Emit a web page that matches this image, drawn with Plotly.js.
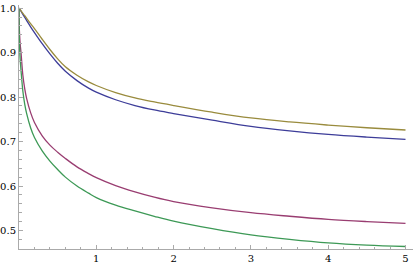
<!DOCTYPE html>
<html>
<head>
<meta charset="utf-8">
<script src="https://cdn.plot.ly/plotly-3.0.1.min.js"></script>
<style>html,body{margin:0;padding:0;background:#fff;}#chart{width:415px;height:267px;}</style>
</head>
<body>
<div id="chart"></div>
<script>
const xs     = [0, 0.003, 0.008, 0.015, 0.026, 0.05, 0.075, 0.1, 0.15, 0.2, 0.3, 0.4, 0.5, 0.6, 0.75, 0.9, 1.0, 1.25, 1.5, 1.75, 2, 2.5, 3, 3.5, 4, 4.5, 5];
const blue   = [1, 0.999, 0.998, 0.996, 0.993, 0.986, 0.979, 0.972, 0.958, 0.945, 0.920, 0.897, 0.876, 0.858, 0.837, 0.820, 0.811, 0.794, 0.781, 0.771, 0.763, 0.748, 0.734, 0.724, 0.716, 0.710, 0.705];
const gold   = [1, 0.999, 0.998, 0.997, 0.994, 0.988, 0.983, 0.977, 0.965, 0.954, 0.930, 0.907, 0.886, 0.868, 0.849, 0.834, 0.826, 0.810, 0.798, 0.789, 0.781, 0.766, 0.753, 0.744, 0.737, 0.731, 0.726];
const purple = [1, 0.960, 0.940, 0.920, 0.900, 0.849, 0.818, 0.796, 0.765, 0.743, 0.713, 0.692, 0.676, 0.662, 0.643, 0.628, 0.619, 0.601, 0.587, 0.575, 0.565, 0.551, 0.540, 0.532, 0.525, 0.520, 0.516];
const green  = [1, 0.940, 0.910, 0.885, 0.860, 0.813, 0.783, 0.762, 0.731, 0.709, 0.679, 0.656, 0.637, 0.620, 0.600, 0.584, 0.574, 0.557, 0.544, 0.532, 0.521, 0.504, 0.490, 0.480, 0.472, 0.467, 0.464];
const xTicks = [1, 2, 3, 4, 5];
const yTicks = [0.5, 0.6, 0.7, 0.8, 0.9, 1.0];

const series = [
  {y: blue, color: '#3D3D99'},
  {y: purple, color: '#993D71'},
  {y: gold, color: '#998B3D'},
  {y: green, color: '#3D9956'}
];
const data = series.map(s => ({
  x: xs, y: s.y, type: 'scatter', mode: 'lines',
  line: {color: s.color, width: 1.3, shape: 'spline', smoothing: 1},
  hoverinfo: 'skip'
}));

const axisCommon = {
  showgrid: false, zeroline: false, showline: true,
  linecolor: '#aaaaaa', linewidth: 1,
  ticks: 'inside', tickcolor: '#aaaaaa', ticklen: 4, tickwidth: 1,
  tickfont: {family: 'DejaVu Serif', size: 10, color: '#000'}
};
const layout = {
  width: 415, height: 267,
  font: {family: 'DejaVu Serif'},
  margin: {l: 19, r: 2, t: 5, b: 18},
  paper_bgcolor: '#fff', plot_bgcolor: '#fff',
  showlegend: false,
  xaxis: Object.assign({}, axisCommon, {
    range: [0, 5.097], tickmode: 'array', tickvals: xTicks, ticktext: xTicks.map(String),
    minor: {ticks: 'inside', tick0: 0, dtick: 0.2, ticklen: 2.5, tickcolor: '#aaaaaa', showgrid: false}
  }),
  yaxis: Object.assign({}, axisCommon, {
    range: [0.4584, 1.007], tickmode: 'array', tickvals: yTicks, ticktext: yTicks.map(v => v.toFixed(1)),
    ticklabelstandoff: 0,
    minor: {ticks: 'inside', tick0: 0, dtick: 0.02, ticklen: 2.5, tickcolor: '#aaaaaa', showgrid: false}
  })
};
Plotly.newPlot('chart', data, layout, {staticPlot: true, displayModeBar: false});
</script>
</body>
</html>
